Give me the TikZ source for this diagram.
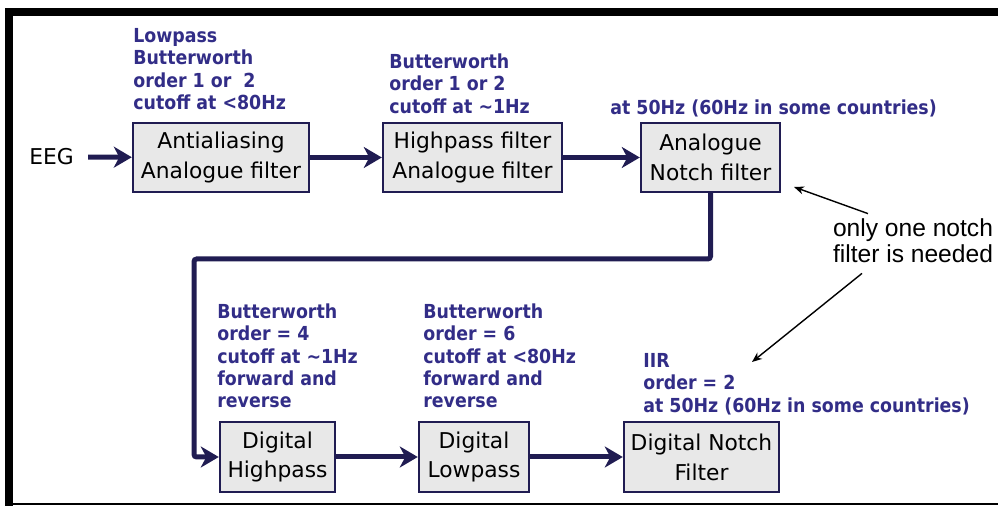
\documentclass[tikz,border=0pt]{standalone}
\usepackage{fontspec}
\setmainfont{DejaVu Sans}
\newfontfamily\specfont{DejaVu Sans Condensed}
\newfontfamily\notefont{Liberation Sans}
\usepackage{xcolor}
\usetikzlibrary{arrows.meta}

\definecolor{flowblue}{RGB}{32,28,82}
\definecolor{specblue}{RGB}{50,45,135}
\definecolor{boxgray}{RGB}{232,232,232}

\begin{document}
\begin{tikzpicture}[
  x=0.02cm, y=-0.02cm,
  block/.style={rectangle, draw=flowblue, line width=1.4pt, fill=boxgray, align=center, inner sep=0pt, minimum height=1.38cm, font=\fontsize{12.4}{17}\selectfont},
  spec/.style={anchor=north west, inner sep=0pt, align=left, text=specblue, font=\specfont\bfseries\fontsize{11}{12.8}\selectfont},
  flow/.style={-{Stealth[length=0.36cm,width=0.42cm,inset=0.11cm]}, line width=0.1cm, draw=flowblue, rounded corners=1.5pt},
  pointer/.style={-{Stealth[length=0.2cm,width=0.16cm]}, line width=0.8pt, black}
]
  \useasboundingbox (0,0) rectangle (998,506);

  % Frame
  \fill[black] (5,8) rectangle (998,16);
  \fill[black] (5,8) rectangle (13,506);
  \draw[black, line width=0.7pt] (13,504) -- (998,504);

  % Analogue stage
  \node[font=\fontsize{12.4}{15}\selectfont, inner xsep=0.28cm] (eeg) at (51.5,157) {EEG};
  \node[block, minimum width=3.52cm] (anti) at (221,157.5) {Antialiasing\\Analogue filter};
  \node[block, minimum width=3.58cm] (hpf) at (472.5,157.5) {Highpass filter\\Analogue filter};
  \node[block, minimum width=2.78cm] (anotch) at (710.5,157.5) {Analogue\\Notch filter};

  % Digital stage
  \node[block, minimum width=2.30cm, minimum height=1.40cm] (dhp) at (277.5,457) {Digital\\Highpass};
  \node[block, minimum width=2.20cm, minimum height=1.40cm] (dlp) at (474,457) {Digital\\Lowpass};
  \node[block, minimum width=3.10cm, minimum height=1.40cm] (dnotch) at (701.5,457) {Digital Notch\\Filter};

  % Filter parameters
  \node[spec] (antispec) at (133,28) {Lowpass\\Butterworth\\order 1 or \ 2\\cutoff at <80Hz};
  \node[spec] (hpfspec) at (389,53) {Butterworth\\order 1 or 2\\cutoff at \textasciitilde1Hz};
  \node[spec] (anotchspec) at (610,99) {at 50Hz (60Hz in some countries)};
  \node[spec] (dhpspec) at (217,303) {Butterworth\\order = 4\\cutoff at \textasciitilde1Hz\\forward and\\reverse};
  \node[spec] (dlpspec) at (423,303) {Butterworth\\order = 6\\cutoff at <80Hz\\forward and\\reverse};
  \node[spec] (dnotchspec) at (643,353) {IIR\\order = 2\\at 50Hz (60Hz in some countries)};

  % Signal path
  \coordinate (bend) at (194,259);
  \draw[flow] (eeg) -- (anti);
  \draw[flow] (anti) -- (hpf);
  \draw[flow] (hpf) -- (anotch);
  \draw[flow] (anotch.south) |- (bend) |- (dhp.west);
  \draw[flow] (dhp) -- (dlp);
  \draw[flow] (dlp) -- (dnotch);

  % Remark on the notch filters
  \node[font=\notefont\fontsize{14}{14.8}\selectfont, align=center, inner sep=0pt] (note) at (913,241) {only one notch\\filter is needed};
  \coordinate (anotchmark) at (794,187);
  \coordinate (iirmark) at (752,362);
  \draw[pointer] ([xshift=-0.9cm,yshift=0.1cm]note.north) -- (anotchmark);
  \draw[pointer] ([xshift=-1.02cm,yshift=-0.2cm]note.south) -- (iirmark);
\end{tikzpicture}
\end{document}
